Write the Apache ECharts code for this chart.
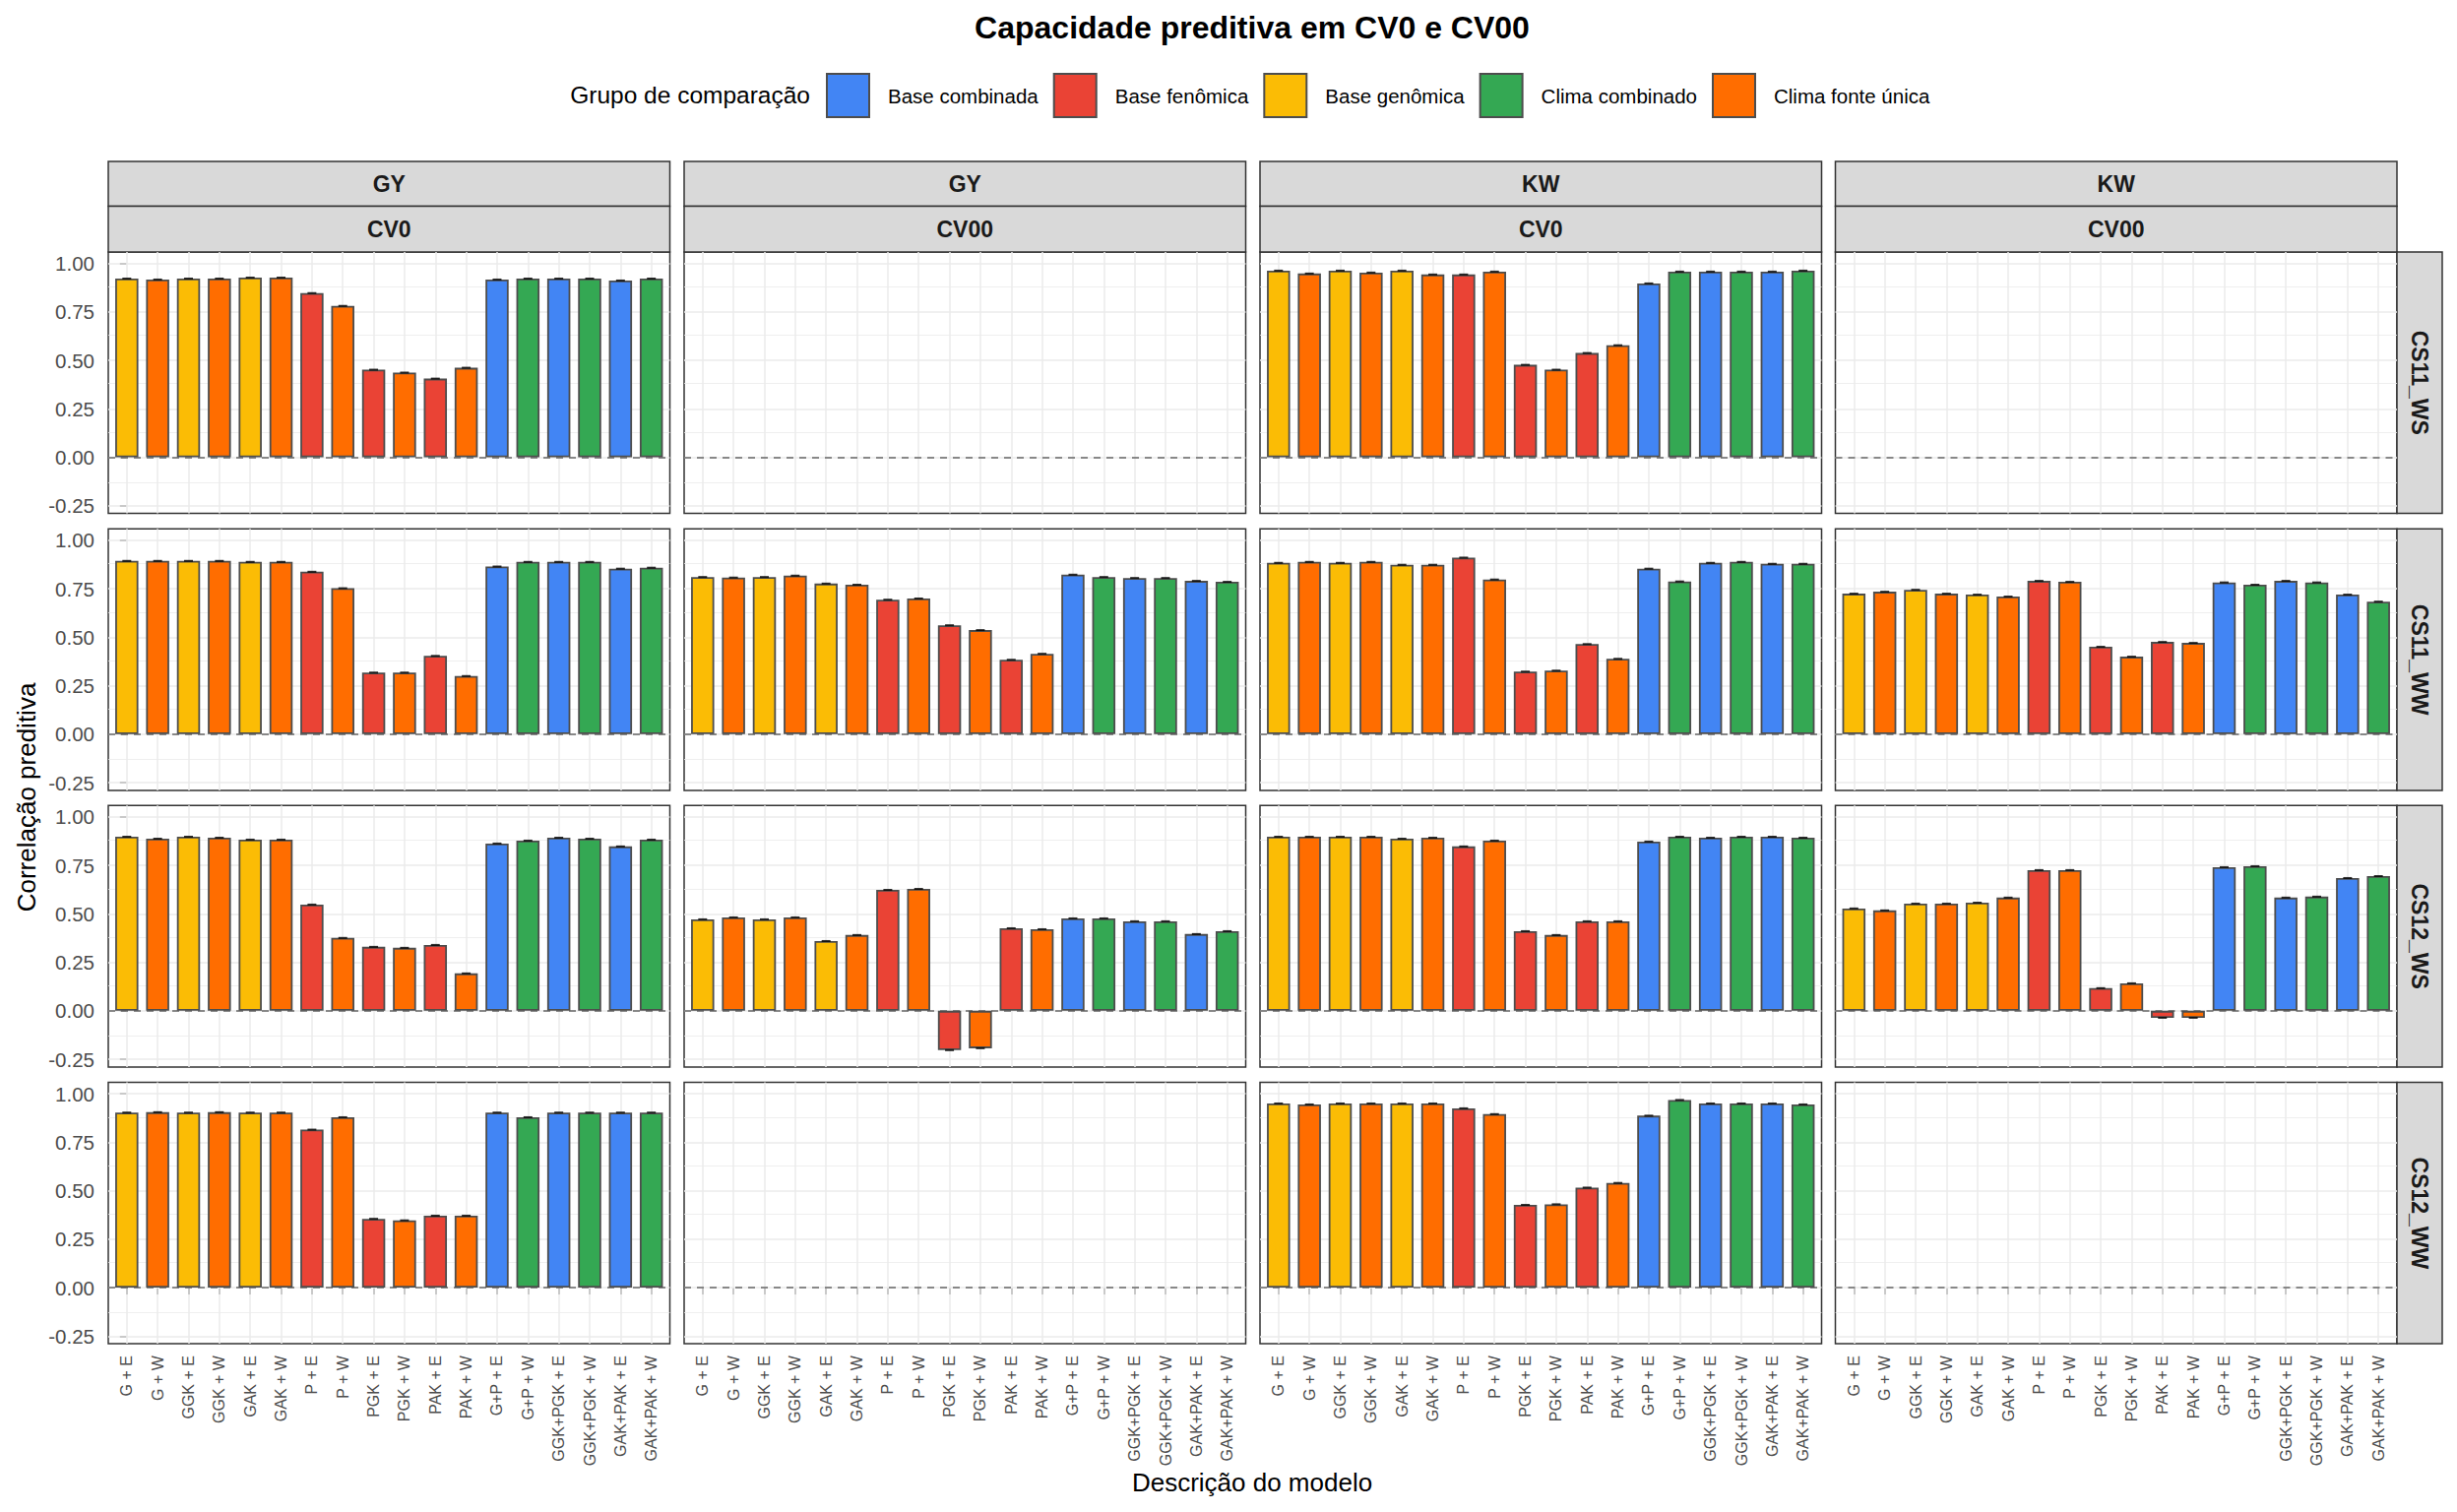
<!DOCTYPE html>
<html>
<head>
<meta charset="utf-8">
<script src="https://cdn.jsdelivr.net/npm/echarts@6/dist/echarts.min.js"></script>
<style>html,body{margin:0;padding:0;background:#fff}#c{width:2496px;height:1536px}</style>
</head>
<body>
<div id="c"></div>
<script>
// ---------- data ----------
const categories = ['G + E','G + W','GGK + E','GGK + W','GAK + E','GAK + W','P + E','P + W','PGK + E','PGK + W','PAK + E','PAK + W','G+P + E','G+P + W','GGK+PGK + E','GGK+PGK + W','GAK+PAK + E','GAK+PAK + W'];
const groupNames = ['Base combinada','Base fenômica','Base genômica','Clima combinado','Clima fonte única'];
const groupColors = ['#4285F4','#EA4335','#FBBC05','#34A853','#FF6D00'];
const categoryGroup = ['Base genômica','Clima fonte única','Base genômica','Clima fonte única','Base genômica','Clima fonte única','Base fenômica','Clima fonte única','Base fenômica','Clima fonte única','Base fenômica','Clima fonte única','Base combinada','Clima combinado','Base combinada','Clima combinado','Base combinada','Clima combinado'];
const traits = ['GY','GY','KW','KW'];
const schemes = ['CV0','CV00','CV0','CV00'];
const environments = ['CS11_WS','CS11_WW','CS12_WS','CS12_WW'];
const yTicks = [-0.25,0,0.25,0.5,0.75,1];
const yMinorTicks = [-0.125,0.125,0.375,0.625,0.875];

const gyCV0_CS11_WS  = [0.922,0.917,0.922,0.922,0.927,0.927,0.847,0.781,0.452,0.437,0.406,0.462,0.917,0.922,0.922,0.922,0.912,0.922];
const kwCV0_CS11_WS  = [0.963,0.948,0.963,0.953,0.963,0.943,0.943,0.958,0.477,0.452,0.538,0.578,0.897,0.958,0.958,0.958,0.958,0.963];
const gyCV0_CS11_WW  = [0.894,0.894,0.894,0.894,0.889,0.889,0.838,0.753,0.318,0.318,0.404,0.300,0.865,0.889,0.889,0.889,0.854,0.859];
const gyCV00_CS11_WW = [0.811,0.808,0.811,0.818,0.777,0.771,0.694,0.700,0.562,0.537,0.384,0.415,0.823,0.811,0.806,0.806,0.791,0.786];
const kwCV0_CS11_WW  = [0.884,0.889,0.884,0.889,0.874,0.874,0.911,0.798,0.323,0.328,0.465,0.389,0.854,0.788,0.884,0.889,0.879,0.879];
const kwCV00_CS11_WW = [0.725,0.735,0.745,0.725,0.720,0.710,0.791,0.786,0.451,0.400,0.476,0.471,0.783,0.771,0.791,0.783,0.720,0.684];
const gyCV0_CS12_WS  = [0.898,0.888,0.898,0.893,0.883,0.883,0.548,0.376,0.330,0.325,0.340,0.193,0.863,0.878,0.893,0.888,0.848,0.883];
const gyCV00_CS12_WS = [0.472,0.482,0.472,0.482,0.360,0.391,0.624,0.629,-0.203,-0.193,0.426,0.421,0.477,0.477,0.462,0.462,0.396,0.411];
const kwCV0_CS12_WS  = [0.898,0.898,0.898,0.898,0.888,0.893,0.848,0.878,0.411,0.391,0.462,0.462,0.873,0.898,0.893,0.898,0.898,0.893];
const kwCV00_CS12_WS = [0.528,0.518,0.553,0.553,0.558,0.584,0.726,0.726,0.117,0.142,-0.036,-0.036,0.741,0.746,0.584,0.589,0.685,0.695];
const gyCV0_CS12_WW  = [0.903,0.905,0.903,0.905,0.903,0.903,0.815,0.879,0.355,0.347,0.371,0.371,0.903,0.879,0.903,0.903,0.903,0.903];
const kwCV0_CS12_WW  = [0.950,0.945,0.950,0.950,0.950,0.950,0.925,0.895,0.427,0.430,0.516,0.540,0.887,0.968,0.950,0.950,0.950,0.945];

// rows = environments, cols = trait/scheme
const panelValues = [
  [gyCV0_CS11_WS, null,           kwCV0_CS11_WS, null],
  [gyCV0_CS11_WW, gyCV00_CS11_WW, kwCV0_CS11_WW, kwCV00_CS11_WW],
  [gyCV0_CS12_WS, gyCV00_CS12_WS, kwCV0_CS12_WS, kwCV00_CS12_WS],
  [gyCV0_CS12_WW, null,           kwCV0_CS12_WW, null]
];

// ---------- layout ----------
const FONT = 'Liberation Sans, Arial, Helvetica, sans-serif';
const colLeft = [110, 695, 1280, 1864.5];
const W = 570.5;
const rowTop = [256, 537.3, 818.3, 1099.5];
const H = 265.6;
const yMin = -0.2896, yMax = 1.059;
const catIdx = categories.map((_, i) => i);

const grids = [], xAxes = [], yAxes = [], series = [];
let k = 0;
for (let r = 0; r < 4; r++) {
  for (let c = 0; c < 4; c++) {
    grids.push({left: colLeft[c], top: rowTop[r], width: W, height: H, show: true,
      backgroundColor: '#ffffff', borderColor: '#333333', borderWidth: 1.5, containLabel: false});
    xAxes.push({type: 'value', gridIndex: k, min: -0.6, max: 17.6,
      splitLine: {show: false}, axisLine: {show: false},
      axisTick: {show: r === 3, customValues: catIdx, length: 7, lineStyle: {color: '#333333', width: 1.5}},
      axisLabel: {show: r === 3, customValues: catIdx, formatter: v => categories[Math.round(v)],
        rotate: 90, fontSize: 16, color: '#4d4d4d', margin: 12, fontFamily: FONT}});
    yAxes.push({type: 'value', gridIndex: k, min: yMin, max: yMax,
      splitLine: {show: false}, axisLine: {show: false},
      axisTick: {show: c === 0, customValues: yTicks, length: 7, lineStyle: {color: '#333333', width: 1.5}},
      axisLabel: {show: c === 0, customValues: yTicks, formatter: v => v.toFixed(2),
        fontSize: 20.5, color: '#4d4d4d', margin: 14, fontFamily: FONT}});
    // grid lines
    const gl = [];
    yMinorTicks.forEach(v => gl.push({yAxis: v, lineStyle: {color: '#ebebeb', width: 0.8, type: 'solid'}}));
    yTicks.forEach(v => gl.push({yAxis: v, lineStyle: {color: '#ebebeb', width: 1.5, type: 'solid'}}));
    catIdx.forEach(v => gl.push({xAxis: v, lineStyle: {color: '#ebebeb', width: 1.5, type: 'solid'}}));
    series.push({type: 'line', xAxisIndex: k, yAxisIndex: k, data: [], z: 1, silent: true,
      markLine: {z: 1, symbol: ['none','none'], silent: true, animation: false, label: {show: false}, data: gl}});
    // dashed zero line
    series.push({type: 'line', xAxisIndex: k, yAxisIndex: k, data: [], z: 2, silent: true,
      markLine: {z: 2, symbol: ['none','none'], silent: true, animation: false, label: {show: false},
        lineStyle: {color: '#666666', width: 1.6, type: [7, 6]}, data: [{yAxis: 0}]}});
    const vals = panelValues[r][c];
    if (vals) {
      groupNames.forEach((g, gi) => {
        const d = [];
        vals.forEach((v, i) => { if (categoryGroup[i] === g) d.push([i, v]); });
        series.push({type: 'bar', name: g, xAxisIndex: k, yAxisIndex: k, data: d,
          barWidth: 23.5, barGap: '-100%', z: 10,
          itemStyle: {color: groupColors[gi], borderColor: '#4d4d4d', borderWidth: 1.8}});
      });
      series.push({type: 'scatter', name: 'erro', xAxisIndex: k, yAxisIndex: k, silent: true, z: 11,
        data: vals.map((v, i) => [i, v]), symbol: 'rect', symbolSize: [9, 2],
        itemStyle: {color: '#000000'}});
    }
    k++;
  }
}

// ---------- strips & titles ----------
const graphic = [];
for (let c = 0; c < 4; c++) {
  graphic.push({type: 'rect', shape: {x: colLeft[c], y: 164, width: W, height: 45.5},
    style: {fill: '#d9d9d9', stroke: '#333333', lineWidth: 1.5}, silent: true});
  graphic.push({type: 'rect', shape: {x: colLeft[c], y: 209.5, width: W, height: rowTop[0] - 209.5},
    style: {fill: '#d9d9d9', stroke: '#333333', lineWidth: 1.5}, silent: true});
  graphic.push({type: 'text', x: colLeft[c] + W / 2, y: 187,
    style: {text: traits[c], fill: '#1a1a1a', fontSize: 23, fontWeight: 'bold', fontFamily: FONT, align: 'center', verticalAlign: 'middle'}});
  graphic.push({type: 'text', x: colLeft[c] + W / 2, y: 233,
    style: {text: schemes[c], fill: '#1a1a1a', fontSize: 23, fontWeight: 'bold', fontFamily: FONT, align: 'center', verticalAlign: 'middle'}});
}
for (let r = 0; r < 4; r++) {
  graphic.push({type: 'rect', shape: {x: colLeft[3] + W, y: rowTop[r], width: 46, height: H},
    style: {fill: '#d9d9d9', stroke: '#333333', lineWidth: 1.5}, silent: true});
  graphic.push({type: 'text', x: colLeft[3] + W + 23, y: rowTop[r] + H / 2, rotation: -Math.PI / 2,
    style: {text: environments[r], fill: '#1a1a1a', fontSize: 23, fontWeight: 'bold', fontFamily: FONT, align: 'center', verticalAlign: 'middle'}});
}
graphic.push({type: 'text', x: 1272, y: 28,
  style: {text: 'Capacidade preditiva em CV0 e CV00', fill: '#000', fontSize: 32, fontWeight: 'bold', fontFamily: FONT, align: 'center', verticalAlign: 'middle'}});
graphic.push({type: 'text', x: 823, y: 96,
  style: {text: 'Grupo de comparação', fill: '#000', fontSize: 24.5, fontFamily: FONT, align: 'right', verticalAlign: 'middle'}});
graphic.push({type: 'text', x: 1272, y: 1506,
  style: {text: 'Descrição do modelo', fill: '#000', fontSize: 26, fontFamily: FONT, align: 'center', verticalAlign: 'middle'}});
graphic.push({type: 'text', x: 27, y: 810, rotation: Math.PI / 2,
  style: {text: 'Correlação preditiva', fill: '#000', fontSize: 26, fontFamily: FONT, align: 'center', verticalAlign: 'middle'}});

const chart = echarts.init(document.getElementById('c'), null, {renderer: 'svg', width: 2496, height: 1536});
chart.setOption({
  animation: false,
  backgroundColor: '#ffffff',
  textStyle: {fontFamily: FONT},
  legend: {data: groupNames, left: 839, top: 74, padding: 0, orient: 'horizontal', itemWidth: 43, itemHeight: 44,
    itemGap: 15, icon: 'rect', selectedMode: false,
    textStyle: {fontSize: 20.5, color: '#000', fontFamily: FONT, padding: [0, 0, 0, 14]}},
  grid: grids,
  xAxis: xAxes,
  yAxis: yAxes,
  series: series,
  graphic: graphic
});
</script>
</body>
</html>
